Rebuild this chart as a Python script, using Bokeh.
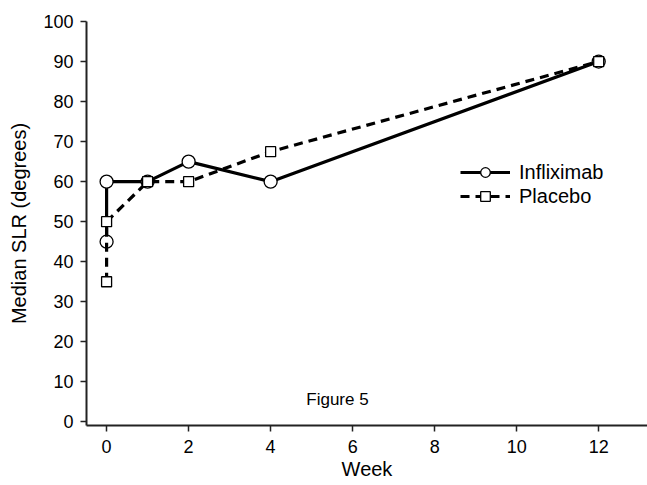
from bokeh.plotting import figure
from bokeh.models import Range1d, FixedTicker, Legend, LegendItem, Label
from bokeh.embed import file_html
from bokeh.resources import INLINE

weeks_inf = [0, 0, 1, 2, 4, 12]
slr_inf = [45, 60, 60, 65, 60, 90]
weeks_pla = [0, 0, 1, 2, 4, 12]
slr_pla = [35, 50, 60, 60, 67.5, 90]
x_ticks = [0, 2, 4, 6, 8, 10, 12]
y_ticks = list(range(0, 101, 10))

FONT = "Liberation Sans"

p = figure(width=647, height=485, output_backend="svg", toolbar_location=None,
           x_range=Range1d(-0.49, 13.19), y_range=Range1d(-0.9, 100),
           min_border_left=86, min_border_right=0, min_border_top=21, min_border_bottom=60)
p.outline_line_color = None
p.grid.visible = False
p.background_fill_color = "white"

for ax in (p.xaxis[0], p.yaxis[0]):
    ax.axis_line_width = 2
    ax.axis_line_color = "#222222"
    ax.major_tick_line_color = "#222222"
    ax.major_tick_line_width = 1.5
    ax.major_tick_in = 0
    ax.minor_tick_line_color = None
    ax.major_label_text_font = FONT
    ax.major_label_text_font_size = "18px"
    ax.major_label_text_color = "black"
    ax.axis_label_text_font = FONT
    ax.axis_label_text_font_size = "20px"
    ax.axis_label_text_font_style = "normal"
    ax.axis_label_text_color = "black"

p.xaxis.ticker = FixedTicker(ticks=x_ticks)
p.yaxis.ticker = FixedTicker(ticks=y_ticks)
p.xaxis.major_tick_out = 6
p.yaxis.major_tick_out = 6
p.xaxis.major_label_standoff = 8
p.yaxis.major_label_standoff = 7
p.xaxis.axis_label = "Week"
p.yaxis.axis_label = "Median SLR (degrees)"
p.xaxis.axis_label_standoff = 2
p.yaxis.axis_label_standoff = 10

l1 = p.line(weeks_inf, slr_inf, line_color="black", line_width=3.2)
m1 = p.scatter(weeks_inf, slr_inf, marker="circle", size=13, fill_color="white",
               line_color="black", line_width=1.3)
l2 = p.line(weeks_pla, slr_pla, line_color="black", line_width=3.2, line_dash="9 6")
m2 = p.scatter(weeks_pla, slr_pla, marker="square", size=10, fill_color="white",
               line_color="black", line_width=1.3)

legend = Legend(items=[LegendItem(label="Infliximab", renderers=[l1, m1]),
                       LegendItem(label="Placebo", renderers=[l2, m2])],
                location=(374, 217))
legend.label_text_font = FONT
legend.label_text_font_size = "20px"
legend.label_text_color = "black"
legend.glyph_width = 50
legend.glyph_height = 24
legend.spacing = 0
legend.padding = 5
legend.margin = 0
legend.border_line_color = None
legend.background_fill_alpha = 0
legend.label_standoff = 9
p.add_layout(legend)

p.add_layout(Label(x=5.63, y=5.7, text="Figure 5", text_font=FONT, text_font_size="17px",
                   text_align="center", text_baseline="middle", text_color="black"))

open("out.html", "w").write(file_html(p, INLINE))
